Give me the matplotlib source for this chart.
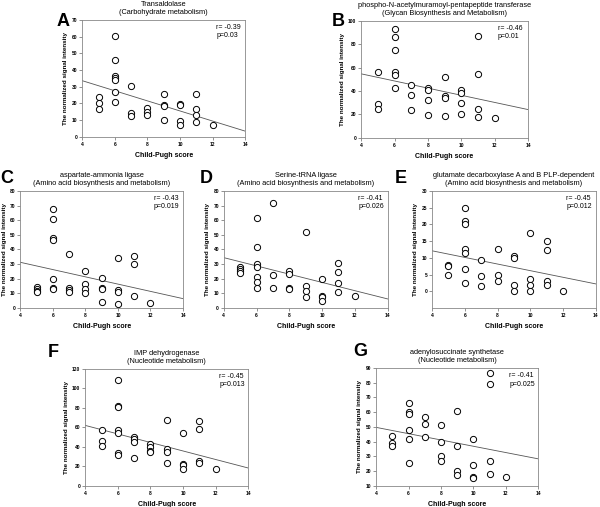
import matplotlib
matplotlib.use("Agg")
import matplotlib.pyplot as plt

plt.rcParams['font.family'] = ['Liberation Sans', 'DejaVu Sans']

# --- data ---
a_x = [5, 5, 5, 6, 6, 6, 6, 6, 6, 6, 7, 7, 7, 8, 8, 8, 9, 9, 9, 9, 10, 10, 10, 10, 11, 11, 11, 11, 12]
a_y = [23.6, 20, 16.8, 60.4, 45.8, 36.4, 35.2, 34, 26.8, 20.8, 30.2, 14, 12.6, 17, 15, 13,
       25.6, 19, 18.6, 10.2, 19.6, 19, 9.4, 7.2, 25.8, 16.6, 13.2, 8.8, 7]
a_fit = [33.6, 3.4]

b_x = [5, 5, 5, 6, 6, 6, 6, 6, 6, 7, 7, 7, 8, 8, 8, 8, 9, 9, 9, 9, 10, 10, 10, 10, 11, 11, 11, 11, 12]
b_y = [56.4, 29.3, 24.5, 93.2, 86.3, 74.9, 56.4, 53.8, 42.2, 45.3, 36.8, 23.9, 42.7, 40.7, 32.2, 19.7,
       52.4, 35.6, 34.2, 19.1, 41.3, 38.5, 29.6, 20.5, 87.2, 54.4, 25.1, 18.2, 16.8]
b_fit = [54.7, 24.2]

c_x = [5, 5, 5, 5, 6, 6, 6, 6, 6, 6, 6, 7, 7, 7, 7, 8, 8, 8, 8, 9, 9, 9, 9, 10, 10, 10, 10, 11, 11, 11, 12]
c_y = [14.5, 12.7, 11.5, 10.7, 67.9, 60.6, 47.6, 46.5, 20, 13.9, 13.2, 37.1, 13.7, 12.5, 11.2,
       25.5, 16.4, 13, 10.5, 20.5, 13.9, 13.2, 4.3, 34.2, 12.3, 10.9, 3, 35.3, 29.8, 8.2, 3.6]
c_fit = [31.2, 6.4]

d_x = [5, 5, 5, 5, 6, 6, 6, 6, 6, 6, 6, 7, 7, 7, 8, 8, 8, 8, 9, 9, 9, 9, 10, 10, 10, 10, 11, 11, 11, 11, 12]
d_y = [28, 26.6, 25.2, 23.9, 61.5, 42, 29.8, 28.2, 21.1, 17.9, 14, 71.6, 22.5, 14, 25, 23.2, 14, 13.1,
       52, 15.1, 11.7, 7.3, 19.7, 8.5, 7.6, 4.6, 30.5, 24.3, 17.2, 10.8, 8.5]
d_fit = [34.4, 6.2]

e_x = [5, 5, 5, 6, 6, 6, 6, 6, 6, 6, 7, 7, 7, 8, 8, 8, 9, 9, 9, 9, 10, 10, 10, 10, 11, 11, 11, 11, 12]
e_y = [8, 7.6, 5, 25, 20.9, 20.2, 12.5, 11.4, 6.8, 2.5, 9.4, 4.5, 1.6, 12.7, 4.9, 3,
       10.6, 9.9, 1.8, 0, 17.5, 3.8, 2, 0, 15, 12.2, 3.1, 1.8, 0]
e_fit = [12.1, 2.2]

f_x = [5, 5, 5, 6, 6, 6, 6, 6, 6, 6, 7, 7, 7, 7, 8, 8, 8, 8, 9, 9, 9, 9, 10, 10, 10, 10, 11, 11, 11, 11, 12]
f_y = [57.3, 46.4, 41, 108.9, 82.3, 80.5, 57.3, 53.9, 33.4, 31.4, 49.8, 47.8, 44.7, 29,
       43, 39.6, 35.5, 34.5, 67.6, 37.5, 34.8, 23.5, 53.9, 22.5, 21.2, 17.7, 66.2, 58.4, 25.3, 23.9, 17.1]
f_fit = [62.1, 18.4]

g_x = [5, 5, 5, 6, 6, 6, 6, 6, 6, 7, 7, 7, 8, 8, 8, 8, 9, 9, 9, 9, 10, 10, 10, 10, 11, 11, 11, 11, 12]
g_y = [44.2, 38.8, 37.2, 65.9, 60, 58.6, 47.6, 41.7, 25.9, 56.7, 51.7, 42.9, 51.3, 39.7, 30.6, 27.2,
       60.7, 37.4, 20, 17.3, 41.7, 24.5, 15.9, 15.2, 86.6, 78.9, 26.6, 18.4, 16.3]
g_fit = [49.7, 28.4]

fit_x = [4, 14]
x_ticks = [4, 6, 8, 10, 12, 14]

panels = [
    # letter, title, r/p text, x, y, fit, ylim, yticks, axes rect, letter position
    ("A", "Transaldolase\n(Carbohydrate metabolism)", "r= -0.39\np=0.03",
     a_x, a_y, a_fit, (0, 70), range(0, 71, 10), [0.137, 0.730, 0.272, 0.231], (0.095, 0.975)),
    ("B", "phospho-N-acetylmuramoyl-pentapeptide transferase\n(Glycan Biosynthesis and Metabolism)", "r= -0.46\np=0.01",
     b_x, b_y, b_fit, (0, 100), range(0, 101, 20), [0.602, 0.728, 0.278, 0.231], (0.553, 0.975)),
    ("C", "aspartate-ammonia ligase\n(Amino acid biosynthesis and metabolism)", "r= -0.43\np=0.019",
     c_x, c_y, c_fit, (0, 80), range(0, 81, 10), [0.034, 0.3925, 0.271, 0.231], (0.0, 0.665)),
    ("D", "Serine-tRNA ligase\n(Amino acid biosynthesis and metabolism)", "r= -0.41\np=0.026",
     d_x, d_y, d_fit, (0, 80), range(0, 81, 10), [0.373, 0.3925, 0.273, 0.231], (0.333, 0.665)),
    ("E", "glutamate decarboxylase A and B PLP-dependent\n(Amino acid biosynthesis and metabolism)", "r= -0.45\np=0.012",
     e_x, e_y, e_fit, (-5, 30), range(0, 31, 5), [0.720, 0.3925, 0.273, 0.231], (0.658, 0.665)),
    ("F", "IMP dehydrogenase\n(Nucleotide metabolism)", "r= -0.45\np=0.013",
     f_x, f_y, f_fit, (0, 120), range(0, 121, 20), [0.142, 0.0414, 0.272, 0.231], (0.08, 0.322)),
    ("G", "adenylosuccinate synthetase\n(Nucleotide metabolism)", "r= -0.41\np=0.025",
     g_x, g_y, g_fit, (10, 90), range(10, 91, 10), [0.627, 0.0414, 0.270, 0.233], (0.588, 0.324)),
]

fig = plt.figure(figsize=(6, 5.07), dpi=100)

for letter, title, stats, xs, ys, fit, ylim, yticks, rect, lpos in panels:
    ax = fig.add_axes(rect)
    ax.plot(fit_x, fit, color='#555555', lw=0.6)
    ax.scatter(xs, ys, s=20, facecolors='white', edgecolors='black', linewidths=0.7, zorder=3)
    ax.set_xlim(4, 14)
    ax.set_ylim(*ylim)
    ax.set_xticks(x_ticks)
    ax.set_yticks(list(yticks))
    ax.tick_params(labelsize=3.5, length=2, width=0.5, color='#666666', pad=1.5)
    for lab in ax.get_xticklabels() + ax.get_yticklabels():
        lab.set_fontweight('bold')
    for sp in ax.spines.values():
        sp.set_linewidth(0.6)
        sp.set_color('#888888')
    ax.set_xlabel("Child-Pugh score", fontsize=5, fontweight='bold', labelpad=4)
    ax.set_ylabel("The normalized signal intensity", fontsize=4.5, fontweight='bold', labelpad=2.5)
    ax.set_title(title, fontsize=5.3, pad=4, linespacing=1.3)
    ax.text(0.82, 0.965, stats, transform=ax.transAxes, fontsize=5, va='top', ha='left',
            linespacing=1.3)
    fig.text(lpos[0], lpos[1], letter, fontsize=13, fontweight='bold', va='top', ha='left')

fig.savefig("out.png", dpi=100)
